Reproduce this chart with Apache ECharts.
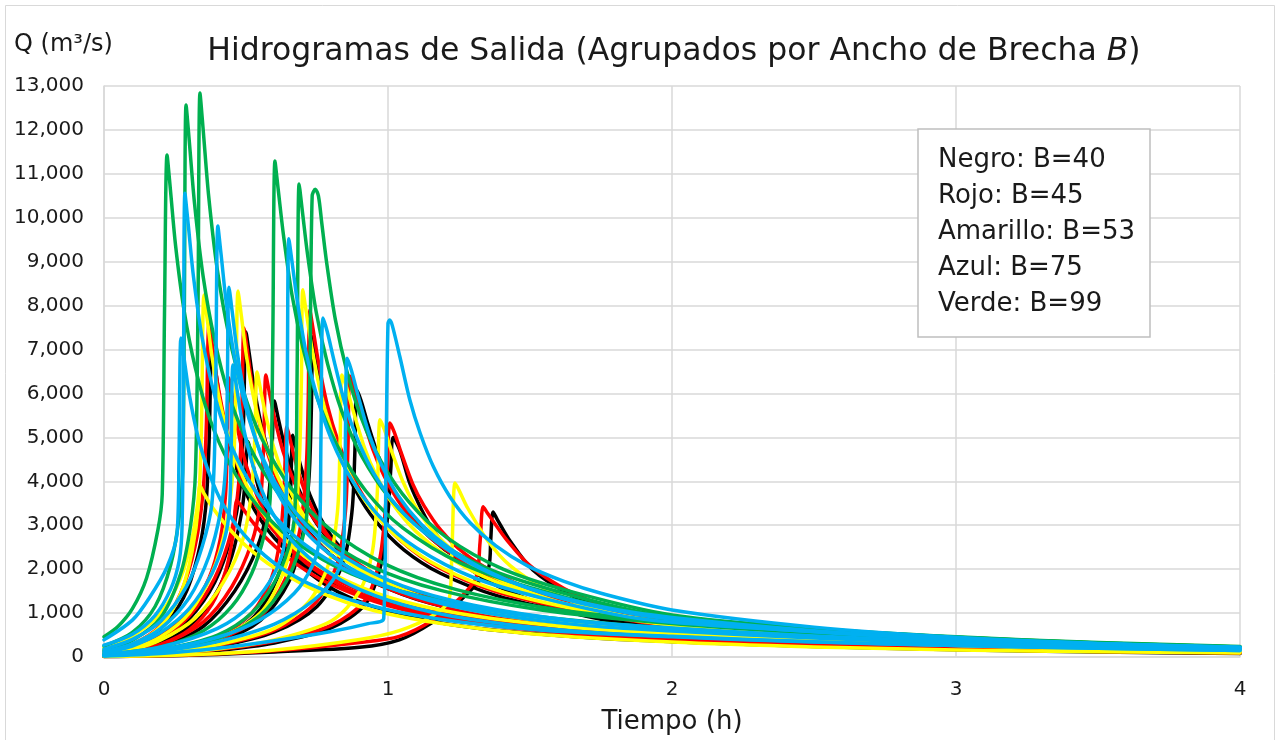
<!DOCTYPE html>
<html><head><meta charset="utf-8">
<script src="https://cdn.jsdelivr.net/npm/echarts@6/dist/echarts.min.js"></script>
<style>html,body{margin:0;padding:0;background:#fff}#c{width:1281px;height:740px}</style>
</head><body><div id="c"></div>
<script>
// ---- Data (t in hours, Q in m3/s) ----
const xTicks = [0, 1, 2, 3, 4];
const yTicks = [0,1000,2000,3000,4000,5000,6000,7000,8000,9000,10000,11000,12000,13000];
const legendLines = ['Negro: B=40', 'Rojo: B=45', 'Amarillo: B=53', 'Azul: B=75', 'Verde: B=99'];

// Negro (B=40)
const negro1 = [[0,60],[0.1,160],[0.2,390],[0.3,870],[0.39,1700],[0.45,2800],[0.48,3900],[0.491,5300],[0.5,7400],[0.512,6880],[0.53,6070],[0.56,5110],[0.6,4260],[0.65,3520],[0.72,2850],[0.82,2220],[0.95,1700],[1.15,1220],[1.4,890],[1.75,630],[2.0,510],[2.5,350],[3.0,240],[3.5,165],[4.0,110]];
const negro2 = [[0,30],[0.2,110],[0.4,350],[0.55,830],[0.65,1700],[0.7,2800],[0.722,4100],[0.73,5600],[0.736,7290],[0.748,6850],[0.766,6200],[0.796,5320],[0.836,4520],[0.886,3790],[0.956,3100],[1.056,2440],[1.186,1900],[1.386,1390],[1.636,1020],[1.986,660],[2.5,410],[3.0,270],[3.5,180],[4.0,115]];
const negro3 = [[0,40],[0.2,230],[0.35,700],[0.46,1500],[0.54,2500],[0.575,3400],[0.59,4500],[0.6,5830],[0.612,5480],[0.63,4960],[0.66,4260],[0.7,3610],[0.75,3030],[0.82,2480],[0.92,1950],[1.05,1520],[1.25,1110],[1.5,820],[1.85,560],[2.3,380],[2.8,260],[3.3,180],[4.0,100]];
const negro4 = [[0,50],[0.1,130],[0.2,320],[0.3,700],[0.39,1400],[0.45,2300],[0.485,3300],[0.497,4000],[0.507,4900],[0.519,4560],[0.537,4020],[0.567,3380],[0.607,2820],[0.657,2330],[0.727,1890],[0.827,1470],[0.957,1130],[1.157,810],[1.407,590],[1.757,420],[2.0,350],[2.5,240],[3.0,165],[3.5,115],[4.0,80]];
const negro5 = [[0,30],[0.2,110],[0.4,390],[0.53,930],[0.61,1800],[0.645,2800],[0.657,3800],[0.665,5050],[0.677,4750],[0.695,4290],[0.725,3690],[0.765,3130],[0.815,2630],[0.885,2150],[0.985,1690],[1.115,1310],[1.315,960],[1.565,710],[1.915,480],[2.5,300],[3.0,200],[3.5,135],[4.0,90]];
const negro6 = [[0,20],[0.2,85],[0.4,240],[0.6,570],[0.75,1150],[0.84,2100],[0.873,3300],[0.883,4600],[0.89,6080],[0.905,5840],[0.93,5290],[0.97,4500],[1.01,3920],[1.07,3280],[1.15,2710],[1.25,2220],[1.39,1730],[1.59,1280],[1.89,880],[2.2,620],[2.6,420],[3.0,300],[3.5,200],[4.0,130]];
const negro7 = [[0,15],[0.2,55],[0.4,150],[0.6,320],[0.8,660],[0.92,1200],[0.975,2100],[1.0,3300],[1.01,4300],[1.018,5000],[1.042,4700],[1.077,3950],[1.12,3330],[1.16,2880],[1.22,2380],[1.28,2040],[1.39,1600],[1.57,1150],[1.75,860],[2.0,610],[2.5,370],[3.0,240],[3.5,160],[4.0,110]];
const negro8 = [[0,10],[0.3,40],[0.6,115],[0.9,220],[1.04,390],[1.16,800],[1.25,1260],[1.32,1720],[1.355,2050],[1.362,2700],[1.37,3300],[1.385,3130],[1.43,2640],[1.51,1980],[1.63,1460],[1.75,1140],[2.0,730],[2.5,420],[3.0,260],[3.5,165],[4.0,105]];
const negro9 = [[0,100],[0.1,260],[0.2,650],[0.28,1350],[0.33,2300],[0.358,3400],[0.37,4900],[0.38,7050],[0.392,6560],[0.41,5780],[0.44,4860],[0.48,4050],[0.53,3350],[0.6,2710],[0.7,2120],[0.83,1620],[1.03,1160],[1.28,850],[1.63,600],[2.0,430],[2.5,290],[3.0,200],[3.5,135],[4.0,90]];

// Rojo (B=45)
const rojo1 = [[0,110],[0.1,290],[0.2,720],[0.27,1450],[0.32,2500],[0.348,3700],[0.36,5200],[0.37,7600],[0.382,7070],[0.4,6230],[0.43,5240],[0.47,4370],[0.52,3610],[0.59,2930],[0.69,2280],[0.82,1750],[1.02,1250],[1.27,910],[1.62,650],[2.0,480],[2.5,340],[3.0,240],[3.5,170],[4.0,120]];
const rojo2 = [[0,70],[0.1,180],[0.2,430],[0.3,930],[0.39,1800],[0.45,2900],[0.475,4000],[0.485,5500],[0.493,7490],[0.505,6970],[0.523,6140],[0.553,5170],[0.593,4310],[0.643,3560],[0.713,2880],[0.813,2250],[0.943,1720],[1.143,1240],[1.393,900],[1.743,640],[2.0,530],[2.5,370],[3.0,260],[3.5,180],[4.0,130]];
const rojo3 = [[0,80],[0.1,210],[0.2,490],[0.3,1050],[0.37,1800],[0.41,2700],[0.428,3700],[0.434,4800],[0.44,6350],[0.452,5910],[0.47,5210],[0.5,4380],[0.54,3650],[0.59,3020],[0.66,2440],[0.76,1910],[0.89,1460],[1.09,1050],[1.34,760],[1.69,540],[2.0,430],[2.5,300],[3.0,215],[3.5,155],[4.0,110]];
const rojo4 = [[0,50],[0.2,280],[0.35,800],[0.45,1600],[0.52,2600],[0.55,3500],[0.562,4800],[0.57,6420],[0.582,6030],[0.6,5460],[0.63,4690],[0.67,3980],[0.72,3340],[0.79,2730],[0.89,2150],[1.02,1670],[1.22,1220],[1.47,900],[1.82,640],[2.2,470],[2.7,330],[3.2,230],[4.0,130]];
const rojo5 = [[0,40],[0.2,130],[0.4,390],[0.55,920],[0.64,1800],[0.69,2900],[0.712,4300],[0.719,5800],[0.725,7900],[0.737,7430],[0.755,6720],[0.785,5770],[0.825,4900],[0.875,4110],[0.945,3360],[1.045,2650],[1.175,2050],[1.375,1500],[1.625,1110],[1.975,720],[2.5,460],[3.0,320],[3.5,220],[4.0,150]];
const rojo6 = [[0,30],[0.2,90],[0.4,260],[0.6,610],[0.74,1200],[0.82,2100],[0.85,3300],[0.859,4800],[0.866,6400],[0.881,6140],[0.906,5570],[0.946,4740],[0.986,4130],[1.046,3460],[1.126,2850],[1.226,2340],[1.366,1820],[1.566,1340],[1.866,930],[2.2,650],[2.6,460],[3.0,340],[3.5,230],[4.0,160]];
const rojo7 = [[0,20],[0.2,65],[0.4,170],[0.6,360],[0.8,720],[0.92,1300],[0.97,2200],[0.992,3500],[1.007,5330],[1.022,5120],[1.047,4640],[1.087,3940],[1.127,3440],[1.187,2880],[1.267,2370],[1.367,1950],[1.507,1520],[1.707,1120],[2.007,770],[2.5,480],[3.0,320],[3.5,220],[4.0,150]];
const rojo8 = [[0,10],[0.3,45],[0.6,140],[0.9,330],[1.04,470],[1.16,850],[1.25,1320],[1.31,1800],[1.324,2600],[1.335,3420],[1.35,3280],[1.38,3000],[1.42,2650],[1.5,2080],[1.62,1560],[1.75,1200],[2.0,780],[2.5,450],[3.0,290],[3.5,190],[4.0,130]];
const rojo9 = [[0,40],[0.1,115],[0.2,290],[0.3,620],[0.38,1200],[0.43,2000],[0.455,2800],[0.468,3570],[0.485,3420],[0.52,3100],[0.58,2650],[0.67,2150],[0.8,1650],[1.0,1170],[1.25,820],[1.6,560],[2.0,380],[2.5,250],[3.0,175],[3.5,125],[4.0,90]];
const rojo10 = [[0,30],[0.2,140],[0.4,460],[0.52,1000],[0.59,1800],[0.62,2700],[0.634,3800],[0.644,5240],[0.656,4930],[0.674,4450],[0.704,3830],[0.744,3250],[0.794,2720],[0.864,2230],[0.964,1760],[1.094,1360],[1.294,1000],[1.544,730],[1.894,520],[2.5,320],[3.0,220],[3.5,150],[4.0,100]];

// Amarillo (B=53)
const amarillo1 = [[0,110],[0.1,280],[0.2,700],[0.27,1450],[0.31,2400],[0.333,3500],[0.343,5200],[0.352,8240],[0.364,7660],[0.382,6760],[0.412,5690],[0.452,4740],[0.502,3910],[0.572,3170],[0.672,2470],[0.802,1900],[1.002,1360],[1.252,990],[1.602,700],[2.0,520],[2.5,370],[3.0,260],[3.5,180],[4.0,130]];
const amarillo2 = [[0,70],[0.1,190],[0.2,460],[0.3,1000],[0.38,1900],[0.43,3000],[0.455,4300],[0.464,6000],[0.472,8330],[0.484,7750],[0.502,6830],[0.532,5750],[0.572,4790],[0.622,3960],[0.692,3210],[0.792,2500],[0.922,1920],[1.122,1370],[1.372,1000],[1.722,710],[2.0,580],[2.5,400],[3.0,280],[3.5,200],[4.0,140]];
const amarillo3 = [[0,40],[0.2,140],[0.4,420],[0.55,1000],[0.63,1900],[0.67,2900],[0.688,4500],[0.695,6300],[0.7,8360],[0.712,7860],[0.73,7110],[0.76,6100],[0.8,5180],[0.85,4350],[0.92,3550],[1.02,2800],[1.15,2170],[1.35,1590],[1.6,1170],[1.95,760],[2.5,480],[3.0,330],[3.5,230],[4.0,160]];
const amarillo4 = [[0,60],[0.1,170],[0.2,390],[0.32,880],[0.42,1700],[0.49,2700],[0.52,3800],[0.531,5000],[0.539,6490],[0.551,6100],[0.569,5520],[0.599,4740],[0.639,4020],[0.689,3370],[0.759,2760],[0.859,2170],[0.989,1690],[1.189,1230],[1.439,910],[1.789,650],[2.5,380],[3.0,270],[3.5,190],[4.0,130]];
const amarillo5 = [[0,30],[0.2,100],[0.4,280],[0.6,650],[0.72,1250],[0.79,2100],[0.822,3300],[0.831,4800],[0.838,6420],[0.853,6160],[0.878,5590],[0.918,4750],[0.958,4140],[1.018,3470],[1.098,2860],[1.198,2340],[1.338,1830],[1.538,1350],[1.838,930],[2.2,640],[2.6,460],[3.0,340],[3.5,240],[4.0,160]];
const amarillo6 = [[0,20],[0.2,70],[0.4,180],[0.6,390],[0.8,820],[0.9,1500],[0.945,2400],[0.962,3700],[0.972,5400],[0.987,5180],[1.012,4700],[1.052,4000],[1.092,3480],[1.152,2920],[1.232,2400],[1.332,1970],[1.472,1540],[1.672,1130],[1.972,780],[2.5,490],[3.0,330],[3.5,230],[4.0,160]];
const amarillo7 = [[0,10],[0.3,50],[0.6,160],[0.9,400],[1.04,600],[1.16,950],[1.215,1300],[1.225,2400],[1.236,3960],[1.25,3800],[1.278,3420],[1.35,2660],[1.43,2080],[1.546,1580],[1.7,1150],[2.0,720],[2.5,430],[3.0,280],[3.5,190],[4.0,130]];
const amarillo8 = [[0,200],[0.1,480],[0.2,1000],[0.27,1800],[0.31,2700],[0.33,3500],[0.338,3900],[0.35,3750],[0.38,3420],[0.43,3000],[0.5,2530],[0.6,2030],[0.75,1500],[0.95,1060],[1.2,750],[1.5,530],[2.0,340],[2.5,230],[3.0,160],[3.5,120],[4.0,90]];

// Azul (B=75)
const azul1 = [[0,270],[0.1,520],[0.18,950],[0.235,1550],[0.265,2200],[0.275,3000],[0.28,6500],[0.285,10560],[0.297,9820],[0.315,8660],[0.345,7290],[0.385,6070],[0.435,5020],[0.505,4070],[0.605,3170],[0.735,2430],[0.935,1740],[1.185,1270],[1.535,900],[2.0,640],[2.5,460],[3.0,340],[3.5,250],[4.0,190]];
const azul2 = [[0,180],[0.1,400],[0.2,820],[0.29,1600],[0.345,2500],[0.38,3500],[0.392,5500],[0.401,9810],[0.413,9120],[0.431,8040],[0.461,6770],[0.501,5640],[0.551,4660],[0.621,3780],[0.721,2940],[0.851,2260],[1.051,1620],[1.301,1180],[1.651,830],[2.0,660],[2.5,480],[3.0,350],[3.5,260],[4.0,190]];
const azul3 = [[0,60],[0.2,230],[0.4,650],[0.52,1200],[0.6,1900],[0.635,2600],[0.644,5000],[0.651,9520],[0.663,8950],[0.681,8090],[0.711,6950],[0.751,5900],[0.801,4950],[0.871,4050],[0.971,3190],[1.101,2480],[1.301,1810],[1.551,1330],[1.901,860],[2.5,580],[3.0,410],[3.5,300],[4.0,220]];
const azul4 = [[0,120],[0.1,300],[0.2,650],[0.3,1350],[0.37,2300],[0.41,3300],[0.428,4300],[0.434,6000],[0.44,8420],[0.452,7830],[0.47,6900],[0.5,5810],[0.54,4840],[0.59,4000],[0.66,3240],[0.76,2530],[0.89,1940],[1.09,1390],[1.34,1010],[1.69,720],[2.0,590],[2.5,430],[3.0,320],[3.5,240],[4.0,180]];
const azul5 = [[0,390],[0.1,840],[0.16,1350],[0.222,2050],[0.257,2800],[0.264,4500],[0.271,7260],[0.283,6750],[0.301,5950],[0.331,5010],[0.371,4170],[0.421,3450],[0.491,2800],[0.591,2180],[0.721,1670],[0.921,1200],[1.171,870],[1.521,620],[2.0,460],[2.5,340],[3.0,260],[3.5,200],[4.0,150]];
const azul6 = [[0,40],[0.2,170],[0.4,450],[0.55,850],[0.67,1450],[0.735,2100],[0.758,2700],[0.764,5000],[0.771,7720],[0.786,7410],[0.811,6720],[0.851,5710],[0.891,4980],[0.951,4170],[1.031,3440],[1.131,2820],[1.271,2200],[1.471,1620],[1.771,1120],[2.0,900],[2.5,600],[3.0,420],[3.5,300],[4.0,210]];
const azul7 = [[0,30],[0.2,130],[0.4,350],[0.6,750],[0.74,1300],[0.82,1900],[0.843,2500],[0.849,4300],[0.856,6800],[0.871,6530],[0.896,5920],[0.936,5030],[0.976,4390],[1.036,3670],[1.116,3030],[1.216,2480],[1.356,1940],[1.556,1430],[1.856,990],[2.2,720],[2.6,530],[3.0,410],[3.5,300],[4.0,210]];
const azul8 = [[0,20],[0.2,80],[0.4,200],[0.6,370],[0.8,580],[0.93,760],[0.985,880],[0.993,4500],[1.0,7600],[1.006,7670],[1.015,7550],[1.042,6830],[1.077,5850],[1.113,5100],[1.16,4330],[1.218,3650],[1.29,3050],[1.38,2530],[1.49,2080],[1.62,1720],[1.75,1450],[2.0,1070],[2.5,680],[3.0,450],[3.5,310],[4.0,220]];
const azul9 = [[0,100],[0.1,250],[0.2,560],[0.3,1100],[0.38,1900],[0.425,2700],[0.442,3400],[0.448,4800],[0.454,6650],[0.466,6180],[0.484,5450],[0.514,4590],[0.554,3820],[0.604,3160],[0.674,2560],[0.774,2000],[0.904,1530],[1.104,1100],[1.354,800],[1.704,570],[2.0,470],[2.5,350],[3.0,260],[3.5,200],[4.0,150]];

// Verde (B=99)
const verde1 = [[0,460],[0.05,700],[0.1,1100],[0.15,1800],[0.19,2900],[0.205,3700],[0.213,7800],[0.222,11430],[0.234,10630],[0.252,9370],[0.282,7890],[0.322,6570],[0.372,5430],[0.442,4400],[0.542,3430],[0.672,2630],[0.872,1890],[1.122,1370],[1.472,970],[2.0,650],[2.5,470],[3.0,340],[3.5,250],[4.0,190]];
const verde2 = [[0,250],[0.1,560],[0.18,1150],[0.235,2100],[0.265,3200],[0.277,4200],[0.283,8000],[0.289,12570],[0.301,11690],[0.319,10310],[0.349,8670],[0.389,7230],[0.439,5970],[0.509,4840],[0.609,3770],[0.739,2890],[0.939,2070],[1.189,1510],[1.539,1070],[2.0,760],[2.5,540],[3.0,390],[3.5,280],[4.0,210]];
const verde3 = [[0,150],[0.1,380],[0.2,900],[0.27,1900],[0.305,3000],[0.322,4200],[0.331,8000],[0.338,12840],[0.35,11940],[0.368,10530],[0.398,8860],[0.438,7380],[0.488,6100],[0.558,4940],[0.658,3850],[0.788,2950],[0.988,2120],[1.238,1540],[1.588,1090],[2.0,800],[2.5,570],[3.0,410],[3.5,300],[4.0,220]];
const verde4 = [[0,60],[0.2,230],[0.35,600],[0.45,1150],[0.52,1900],[0.565,2800],[0.585,3600],[0.594,7000],[0.602,11290],[0.614,10610],[0.632,9600],[0.662,8240],[0.702,7000],[0.752,5870],[0.822,4800],[0.922,3780],[1.052,2940],[1.252,2150],[1.502,1580],[1.852,1020],[2.5,650],[3.0,450],[3.5,320],[4.0,230]];
const verde5 = [[0,40],[0.2,170],[0.4,500],[0.52,1000],[0.6,1700],[0.65,2500],[0.672,3300],[0.68,6500],[0.687,10770],[0.699,10120],[0.717,9150],[0.747,7860],[0.787,6680],[0.837,5600],[0.907,4580],[1.007,3610],[1.137,2800],[1.337,2050],[1.587,1510],[1.937,970],[2.5,640],[3.0,450],[3.5,320],[4.0,230]];
const verde6 = [[0,30],[0.2,140],[0.4,420],[0.55,950],[0.64,1700],[0.69,2500],[0.715,3300],[0.725,6500],[0.733,10500],[0.744,10650],[0.755,10500],[0.767,9870],[0.785,8930],[0.815,7670],[0.855,6510],[0.905,5460],[0.975,4460],[1.075,3520],[1.205,2730],[1.405,2000],[1.655,1470],[2.005,950],[2.5,650],[3.0,460],[3.5,330],[4.0,240]];

const negroCurves = [negro1, negro2, negro3, negro4, negro5, negro6, negro7, negro8, negro9];
const rojoCurves = [rojo1, rojo2, rojo3, rojo4, rojo5, rojo6, rojo7, rojo8, rojo9, rojo10];
const amarilloCurves = [amarillo1, amarillo2, amarillo3, amarillo4, amarillo5, amarillo6, amarillo7, amarillo8];
const verdeCurves = [verde1, verde2, verde3, verde4, verde5, verde6];
const azulCurves = [azul1, azul2, azul3, azul4, azul5, azul6, azul7, azul8, azul9];

// ---- Chart ----
const FONT = 'DejaVu Sans';
const TXT = '#1a1a1a';
const groups = [
  {name: 'Negro', color: '#000000', curves: negroCurves},
  {name: 'Rojo', color: '#FF0000', curves: rojoCurves},
  {name: 'Amarillo', color: '#FFFF00', curves: amarilloCurves},
  {name: 'Verde', color: '#00B050', curves: verdeCurves},
  {name: 'Azul', color: '#00B0F0', curves: azulCurves}
];
const series = [];
groups.forEach(g => g.curves.forEach((c, i) => {
  series.push({
    name: g.name + (i + 1), type: 'line', data: c, showSymbol: false, symbol: 'none',
    smooth: 0.3,
    lineStyle: {color: g.color, width: 3.5, join: 'round', cap: 'round'}, itemStyle: {color: g.color},
    emphasis: {disabled: true}, silent: true
  });
}));

const chart = echarts.init(document.getElementById('c'), null, {renderer: 'canvas'});
chart.setOption({
  animation: false,
  backgroundColor: '#ffffff',
  title: {
    text: '{n|Hidrogramas de Salida (Agrupados por Ancho de Brecha }{i|B}{n|)}',
    left: 669, top: 31, textAlign: 'center',
    textStyle: {fontWeight: 'normal', rich: {
      n: {fontFamily: FONT, fontSize: 31.5, color: TXT, fontWeight: 'normal'},
      i: {fontFamily: FONT, fontSize: 31.5, color: TXT, fontStyle: 'italic', fontWeight: 'normal'}
    }}
  },
  grid: {left: 104, right: 41, top: 86, bottom: 83, containLabel: false},
  xAxis: {
    type: 'value', min: xTicks[0], max: xTicks[xTicks.length - 1], interval: 1,
    name: 'Tiempo (h)', nameLocation: 'middle', nameGap: 52,
    nameTextStyle: {fontFamily: FONT, fontSize: 26, color: TXT},
    axisLine: {show: true, lineStyle: {color: '#D9D9D9', width: 1.5}},
    axisTick: {show: false},
    axisLabel: {fontFamily: FONT, fontSize: 20, color: TXT, margin: 23},
    splitLine: {show: true, lineStyle: {color: '#D9D9D9', width: 1.5}}
  },
  yAxis: {
    type: 'value', min: yTicks[0], max: yTicks[yTicks.length - 1], interval: 1000,
    axisLine: {show: true, lineStyle: {color: '#D9D9D9', width: 1.5}},
    axisTick: {show: false},
    axisLabel: {fontFamily: FONT, fontSize: 20, color: TXT, margin: 20,
      formatter: v => v.toLocaleString('en-US')},
    splitLine: {show: true, lineStyle: {color: '#D9D9D9', width: 1.5}}
  },
  graphic: [
    {type: 'rect', shape: {x: 5.5, y: 5.5, width: 1269, height: 740}, style: {fill: 'none', stroke: '#D9D9D9', lineWidth: 1}, silent: true, z: -1},
    {type: 'text', left: 14, top: 33, style: {text: 'Q (m³/s)', fontFamily: FONT, fontSize: 24, fill: TXT}},
    {type: 'rect', z: 100, shape: {x: 918, y: 129, width: 232, height: 208}, style: {fill: '#ffffff', stroke: '#BFBFBF', lineWidth: 1.5}},
    ...legendLines.map((t, i) => ({type: 'text', z: 101, x: 938, y: 147 + i * 36, style: {text: t, fontFamily: FONT, fontSize: 26, fill: TXT}}))
  ],
  series: series
});
</script>
</body></html>
